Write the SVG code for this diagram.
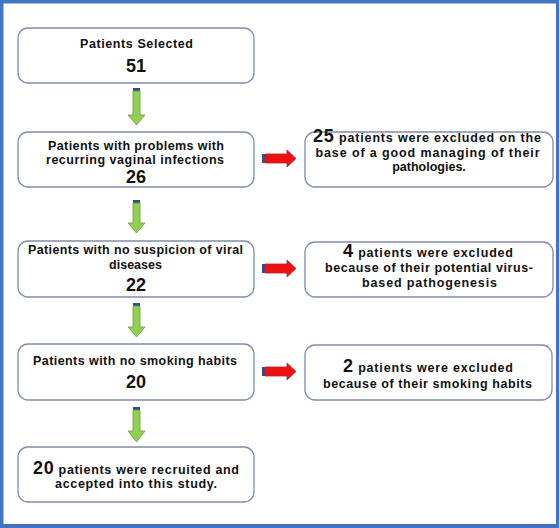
<svg xmlns="http://www.w3.org/2000/svg" width="559" height="528" viewBox="0 0 559 528">
<style>
.box{fill:#fff;stroke:#7f8cab;stroke-width:1.3}
.t{font-family:"Liberation Sans",Arial,sans-serif;font-weight:bold;font-size:12.5px;fill:#111;text-anchor:middle}
.n{font-size:18px}
.g{fill:#92d050;stroke:#6f9a3c;stroke-width:0.8}
.r{fill:#ee1111;stroke:#b22222;stroke-width:0.8}
.cap{fill:#2f4f8f}
</style>
<rect x="0" y="0" width="559" height="528" fill="#4472c4"/>
<rect x="3.5" y="3.5" width="552.5" height="520.5" fill="#fff"/>
<g id="connectors">
<g id="g1"><rect class="cap" x="133" y="88" width="7" height="3"/><path class="g" d="M133,91 H140 V115 H145 L136.5,125 L128,115 H133 Z"/></g>
<g id="g2"><rect class="cap" x="133" y="200" width="7" height="3"/><path class="g" d="M133,203 H140 V223 H145 L136.5,233 L128,223 H133 Z"/></g>
<g id="g3"><rect class="cap" x="133" y="303" width="7" height="3"/><path class="g" d="M133,306 H140 V327 H145 L136.5,337 L128,327 H133 Z"/></g>
<g id="g4"><rect class="cap" x="133" y="407" width="7" height="3"/><path class="g" d="M133,410 H140 V431 H145 L136.5,442 L128,431 H133 Z"/></g>
<g id="r1"><rect class="cap" x="262" y="154" width="3" height="9"/><path class="r" d="M265,154 V163 H287 V167 L296,158.5 L287,150 V154 Z"/></g>
<g id="r2"><rect class="cap" x="262" y="264" width="3" height="9"/><path class="r" d="M265,264 V273 H287 V277 L296,268.5 L287,260 V264 Z"/></g>
<g id="r3"><rect class="cap" x="262" y="367" width="3" height="9"/><path class="r" d="M265,367 V376 H287 V380 L296,371.5 L287,363 V367 Z"/></g>
</g>
<g id="n1"><rect class="box" x="18" y="28" width="236" height="55" rx="10"/>
<text class="t" x="136.5" y="48" textLength="113" lengthAdjust="spacing">Patients Selected</text><text class="t n" x="136" y="72">51</text></g>
<g id="n2"><rect class="box" x="18" y="132" width="236" height="55" rx="10"/>
<text class="t" x="136" y="150" textLength="176" lengthAdjust="spacing">Patients with problems with</text><text class="t" x="135" y="164" textLength="178" lengthAdjust="spacing">recurring vaginal infections</text><text class="t n" x="136" y="183">26</text></g>
<g id="n3"><rect class="box" x="18" y="241" width="236" height="56" rx="10"/>
<text class="t" x="135.5" y="254" textLength="215" lengthAdjust="spacing">Patients with no suspicion of viral</text><text class="t" x="135.5" y="269">diseases</text><text class="t n" x="136" y="291">22</text></g>
<g id="n4"><rect class="box" x="18" y="344" width="236" height="56" rx="10"/>
<text class="t" x="135" y="365" textLength="204" lengthAdjust="spacing">Patients with no smoking habits</text><text class="t n" x="136" y="388">20</text></g>
<g id="n5"><rect class="box" x="18" y="447" width="236" height="55" rx="10"/>
<text class="t" x="136" y="474" textLength="206" lengthAdjust="spacing"><tspan class="n">20</tspan> patients were recruited and</text><text class="t" x="136" y="488" textLength="162" lengthAdjust="spacing">accepted into this study.</text></g>
<g id="e1"><rect class="box" x="305" y="132" width="248" height="55" rx="10"/>
<text class="t" x="427" y="142" textLength="228" lengthAdjust="spacing"><tspan class="n">25</tspan> patients were excluded on the</text><text class="t" x="427.5" y="157" textLength="224" lengthAdjust="spacing">base of a good managing of their</text><text class="t" x="429" y="171">pathologies.</text></g>
<g id="e2"><rect class="box" x="305" y="242" width="248" height="55" rx="10"/>
<text class="t" x="428" y="257" textLength="170" lengthAdjust="spacing"><tspan class="n">4</tspan> patients were excluded</text><text class="t" x="429" y="272" textLength="208" lengthAdjust="spacing">because of their potential virus-</text><text class="t" x="429.5" y="287" textLength="135" lengthAdjust="spacing">based pathogenesis</text></g>
<g id="e3"><rect class="box" x="305" y="345" width="247" height="55" rx="10"/>
<text class="t" x="428" y="372" textLength="170" lengthAdjust="spacing"><tspan class="n">2</tspan> patients were excluded</text><text class="t" x="427.5" y="388" textLength="209" lengthAdjust="spacing">because of their smoking habits</text></g>
</svg>
